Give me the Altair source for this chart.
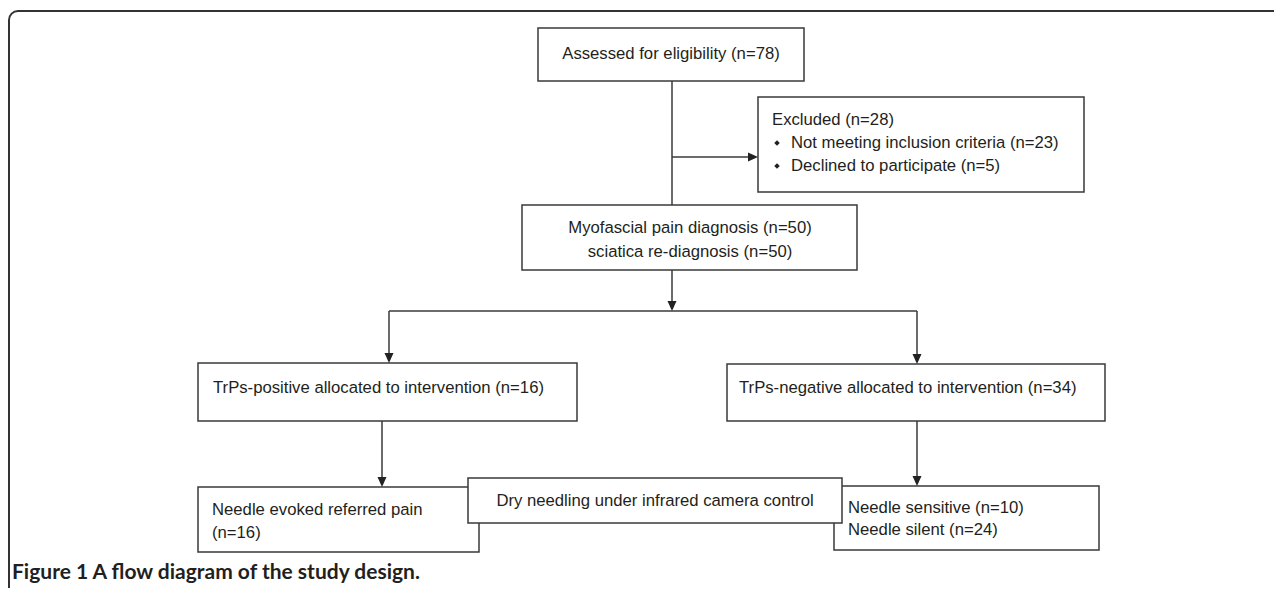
import altair as alt
import pandas as pd

# ---- layout of the diagram (reference pixel coordinates) ----
box_id = ["assessed", "excluded", "diagnosis", "positive", "negative",
          "evoked", "sensitive", "dry"]
box_x1 = [538, 758, 522, 198, 727, 198, 834, 468]
box_y1 = [28, 97, 205, 363, 364, 487, 486, 478]
box_x2 = [804, 1084, 857, 577, 1105, 479, 1099, 842]
box_y2 = [81, 192, 270, 421, 421, 552, 550, 523]

# connector segments
seg_x1 = [672, 672, 672, 389, 389, 917, 382, 917]
seg_y1 = [81, 157, 270, 311, 311, 311, 421, 421]
seg_x2 = [672, 750, 672, 917, 389, 917, 382, 917]
seg_y2 = [205, 157, 302, 311, 354, 355, 478, 477]

# arrow heads (tip positions)
down_tip_x = [672, 389, 917, 382, 917]
down_tip_y = [311, 363, 364, 487, 486]
right_tip_x = [758]
right_tip_y = [157]

# text labels
centered_text = ["Assessed for eligibility (n=78)",
                 "Myofascial pain diagnosis (n=50)",
                 "sciatica re-diagnosis (n=50)",
                 "Dry needling under infrared camera control"]
centered_x = [671, 690, 690, 655]
centered_y = [54, 228, 252, 501]

left_text = ["Excluded  (n=28)",
             "Not meeting inclusion criteria (n=23)",
             "Declined to participate (n=5)",
             "TrPs-positive allocated to intervention (n=16)",
             "TrPs-negative allocated to intervention (n=34)",
             "Needle evoked referred pain",
             "(n=16)",
             "Needle sensitive (n=10)",
             "Needle silent (n=24)"]
left_x = [772, 791, 791, 213, 739, 212, 212, 848, 848]
left_y = [120, 143, 166, 388, 388, 510, 533, 508, 530]

bullet_x = [777, 777]
bullet_y = [143, 166]

caption = "Figure 1 A flow diagram of the study design."
caption_x = [12]
caption_y = [573]

W, H = 1266, 580
xs = alt.Scale(domain=[8, 8 + W], nice=False, zero=False)
ys = alt.Scale(domain=[8, 8 + H], nice=False, zero=False, reverse=True)

LINE = "#3a3a3a"
TXT = "#231f20"
FONT = "Liberation Sans"
FS = 16.7

boxes = pd.DataFrame({"id": box_id, "x": box_x1, "y": box_y1, "x2": box_x2, "y2": box_y2})
segs = pd.DataFrame({"x": seg_x1, "y": seg_y1, "x2": seg_x2, "y2": seg_y2})
downs = pd.DataFrame({"x": down_tip_x, "y": down_tip_y})
rights = pd.DataFrame({"x": right_tip_x, "y": right_tip_y})
ctext = pd.DataFrame({"t": centered_text, "x": centered_x, "y": centered_y})
ltext = pd.DataFrame({"t": left_text, "x": left_x, "y": left_y})
bullets = pd.DataFrame({"x": bullet_x, "y": bullet_y})
cap = pd.DataFrame({"t": [caption], "x": caption_x, "y": caption_y})
frame = pd.DataFrame({"x": [9], "y": [11], "x2": [1400], "y2": [700]})

X = lambda f="x": alt.X(f"{f}:Q", scale=xs, axis=None)
Y = lambda f="y": alt.Y(f"{f}:Q", scale=ys, axis=None)

frame_l = alt.Chart(frame).mark_rect(
    fill=None, stroke="#333333", strokeWidth=2, cornerRadius=9, clip=True
).encode(x=X(), y=Y(), x2="x2:Q", y2="y2:Q")

seg_l = alt.Chart(segs).mark_rule(color=LINE, strokeWidth=1.5).encode(
    x=X(), y=Y(), x2="x2:Q", y2="y2:Q")

box_l = alt.Chart(boxes).mark_rect(
    fill="white", stroke=LINE, strokeWidth=1.5
).encode(x=X(), y=Y(), x2="x2:Q", y2="y2:Q")

down_l = alt.Chart(downs).mark_point(
    shape="M-0.45,-1L0.45,-1L0,0Z", size=400, filled=True, color="#222222", opacity=1
).encode(x=X(), y=Y())

right_l = alt.Chart(rights).mark_point(
    shape="M-1,-0.45L-1,0.45L0,0Z", size=400, filled=True, color="#222222", opacity=1
).encode(x=X(), y=Y())

bullet_l = alt.Chart(bullets).mark_point(
    shape="diamond", size=30, filled=True, color=TXT, opacity=1
).encode(x=X(), y=Y())

ctext_l = alt.Chart(ctext).mark_text(
    align="center", baseline="middle", font=FONT, fontSize=FS, color=TXT
).encode(x=X(), y=Y(), text="t:N")

ltext_l = alt.Chart(ltext).mark_text(
    align="left", baseline="middle", font=FONT, fontSize=FS, color=TXT
).encode(x=X(), y=Y(), text="t:N")

cap_l = alt.Chart(cap).mark_text(
    align="left", baseline="middle", font="Lato", fontSize=21, fontWeight="bold", color=TXT
).encode(x=X(), y=Y(), text="t:N")

chart = alt.layer(
    frame_l, seg_l, box_l, down_l, right_l, bullet_l, ctext_l, ltext_l, cap_l
).properties(
    width=W, height=H, padding=0, autosize="none", background="white"
).configure_view(stroke=None)

chart.save("out.html", embed_options={"renderer": "svg", "actions": False})
